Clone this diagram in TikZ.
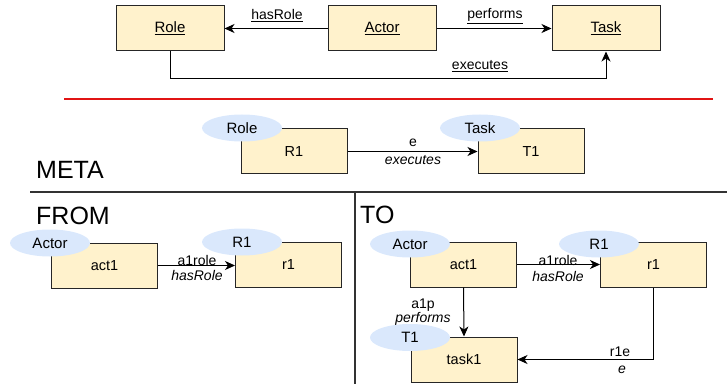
\documentclass[tikz,border=0pt]{standalone}
\usepackage{fontspec}
\setmainfont{Liberation Sans}
\usetikzlibrary{arrows.meta,shapes.geometric}
\definecolor{boxfill}{RGB}{255,242,204}
\definecolor{tagfill}{RGB}{218,232,252}
\definecolor{sepred}{RGB}{225,20,20}
\begin{document}
\begin{tikzpicture}[x=1pt,y=-1pt,
  box/.style={draw=black!85, fill=boxfill, line width=1pt, minimum width=106pt, minimum height=45pt, inner sep=0pt, font=\fontsize{14.5}{16}\selectfont},
  topbox/.style={box, minimum width=108pt, font=\fontsize{15}{17}\selectfont},
  tag/.style={ellipse, fill=tagfill, minimum width=80pt, minimum height=27pt, inner sep=0pt, font=\fontsize{15}{17}\selectfont},
  lbl/.style={font=\fontsize{14}{16}\selectfont, inner sep=0pt},
  ilbl/.style={font=\fontsize{14}{16}\selectfont\itshape, inner sep=0pt},
  big/.style={font=\fontsize{25}{28}\selectfont, inner sep=0pt, anchor=west},
  conn/.style={line width=1pt, -{Stealth[length=10pt,width=9pt,inset=3pt]}},
  sep/.style={line width=1.3pt, draw=black!80}]
\useasboundingbox (0,0) rectangle (727,387);

% top row
\node[topbox] (role) at (170,28.5) {\underline{Role}};
\node[topbox] (actor) at (382,28.5) {\underline{Actor}};
\node[topbox] (task) at (606,28.5) {\underline{Task}};
\draw[conn] (actor.west) -- (role.east);
\draw[conn] (actor.east) -- (task.west);
\draw[conn] (role.south) -- ++(0,27) -| (task.south);
\node[lbl] (lhas) at (277,16) {\underline{hasRole}};
\node[lbl] (lperf) at (495,16) {\underline{performs}};
\node[lbl] (lexec) at (480,66) {\underline{executes}};

% red separator
\coordinate (r0) at (64,99);
\coordinate (r1) at (713,99);
\draw[sepred, line width=1.2pt] (r0) -- (r1);

% meta
\node[box] (mR1) at (294,151.5) {R1};
\node[box] (mT1) at (531,151.5) {T1};
\node[tag] (tRole) at (242,128) {Role};
\node[tag] (tTask) at (480,128) {Task};
\draw[conn] (mR1.east) -- (mT1.west);
\node[lbl] (le) at (413,143) {e};
\node[ilbl] (lex) at (413,160) {executes};
\node[big] (meta) at (36,170) {META};

% separators
\coordinate (h0) at (30,192);
\coordinate (h1) at (727,192);
\coordinate (v0) at (355,192);
\coordinate (v1) at (355,384);
\draw[sep] (h0) -- (h1);
\draw[sep] (v0) -- (v1);

% FROM
\node[big] (from) at (36,216) {FROM};
\node[box] (fact) at (104.5,265.5) {act1};
\node[box] (fr1) at (288.5,265) {r1};
\node[tag] (fActor) at (50,243) {Actor};
\node[tag] (fR1) at (242,242) {R1};
\draw[conn] (fact.east) -- (fact.east -| fr1.west);
\node[lbl] (fl1) at (197,260) {a1role};
\node[ilbl] (fl2) at (197,275) {hasRole};

% TO
\node[big] (to) at (360,215) {TO};
\node[box] (tact) at (463.5,264.5) {act1};
\node[box] (tr1) at (653.5,264.5) {r1};
\node[box] (ttask) at (464,359.5) {task1};
\node[tag] (tActor) at (410,244) {Actor};
\node[tag] (tR1) at (599,244) {R1};
\node[tag] (tT1) at (410,337.5) {T1};
\draw[conn] (tact.east) -- (tr1.west);
\draw[conn] (tact.south) -- (ttask.north);
\draw[conn] (tr1.south) |- (ttask.east);
\node[lbl] (tl1) at (558,260) {a1role};
\node[ilbl] (tl2) at (558,276) {hasRole};
\node[lbl] (tl3) at (423,305) {a1p};
\node[ilbl] (tl4) at (423,319) {performs};
\node[lbl] (tl5) at (620,352) {r1e};
\node[ilbl] (tl6) at (622,370) {e};
\end{tikzpicture}
\end{document}
